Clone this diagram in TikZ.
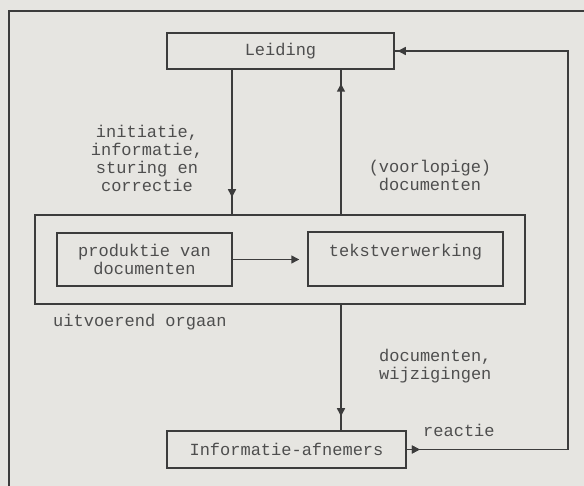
\documentclass[tikz,border=0pt]{standalone}
\usepackage{fontspec}
\setmonofont{Liberation Mono}
\usetikzlibrary{arrows.meta,decorations.markings}
\definecolor{paper}{HTML}{E6E5E1}
\definecolor{ink}{HTML}{3C3C3C}
\definecolor{txt}{HTML}{4E4E4E}
\tikzset{
  x=1pt, y=-1pt,
  every node/.style={font=\ttfamily\fontsize{17}{18}\selectfont, text=txt, inner sep=0pt},
  boxnode/.style={draw=ink, line width=1.5pt, align=center, minimum width=#1},
  conn/.style={draw=ink, line width=1.8pt},
  midarrow/.style={postaction={decorate},
    decoration={markings, mark=at position #1 with {\arrow[line width=1.5pt]{Triangle[length=8pt,width=8pt]}}}},
  lbl/.style={align=center},
}
\begin{document}
\begin{tikzpicture}
\useasboundingbox (0,0) rectangle (584,486);
\fill[paper] (0,0) rectangle (584,486);
\clip (0,0) rectangle (584,486);
% outer frame of the page figure
\draw[conn] (9,11) rectangle (600,500);

\node[boxnode=227pt, minimum height=36pt] (leid) at (280.5,51) {Leiding};
\node[boxnode=490pt, minimum height=89pt] (uitv) at (280,259.5) {};
\node[boxnode=175pt, minimum height=53pt] (prod) at (144.5,259.5) {produktie van\\documenten};
\node[boxnode=195pt, minimum height=54pt] (tekst) at (405.5,259) {tekstverwerking\\\mbox{}};
\node[boxnode=239pt, minimum height=37pt] (info) at (286.5,449.5) {Informatie-afnemers};

\coordinate (dx) at (232,0);
\coordinate (ux) at (341,0);
\coordinate (rx) at (568,0);

\draw[conn, midarrow=-17pt] (leid.south -| dx) -- (uitv.north -| dx);
\draw[conn, midarrow=-14pt] (uitv.north -| ux) -- (leid.south -| ux);
\draw[conn, midarrow=-14pt] (uitv.south -| ux) -- (info.north -| ux);
\draw[conn, midarrow=-8pt, shorten >=8pt] (prod.east) -- (prod.east -| tekst.west);
\draw[conn, midarrow=13pt, postaction={decorate, decoration={markings, mark=at position -3pt with {\arrow[line width=1.5pt]{Triangle[length=8pt,width=8pt]}}}}]
  (info.east) -- (info.east -| rx) |- (leid.east);

\node[lbl] (l1) at (147,158) {initiatie,\\informatie,\\sturing en\\correctie};
\node[lbl] (l2) at (430,175) {(voorlopige)\\documenten};
\node[anchor=west] (l3) at (53,322) {uitvoerend orgaan};
\node[align=left, anchor=west] (l4) at (379,366.5) {documenten,\\wijzigingen};
\node[anchor=west] (l5) at (423,430) {reactie};
\end{tikzpicture}
\end{document}
